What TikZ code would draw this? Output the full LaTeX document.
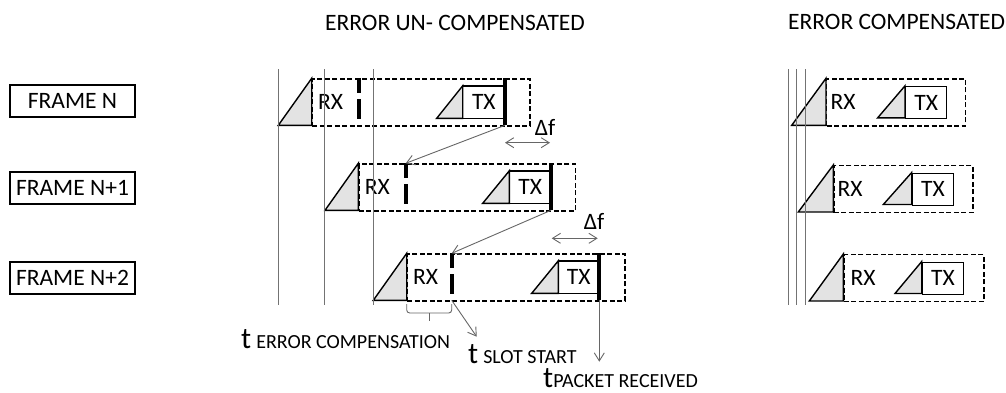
\documentclass[tikz,border=0pt]{standalone}
\usepackage{fontspec}
\setmainfont{Carlito}
\usetikzlibrary{arrows.meta}
\newcommand\uframe[9]{%
  \node[frm, anchor=north west, minimum width={#5-#3}, minimum height=47pt] (#1) at (#3,#4) {};
  \draw[tri] (#2,#4+47) -- (#3,#4) -- (#3,#4+47) -- cycle;
  \node (#1-rx) at (#3+19,#4+23.5) {RX};
  \draw[tri] (#7,#4+40) -- (#8,#4+7.5) -- (#8,#4+40) -- cycle;
  \draw[txbox] (#9,#4+7.5) -- (#8,#4+7.5) -- (#8,#4+40) -- (#9,#4+40);
  \node (#1-tx) at ({(#8+#9)/2},#4+23.5) {TX};
  \coordinate (#1-dt) at (#6,#4);
  \coordinate (#1-db) at (#6,#4+47);
  \coordinate (#1-bt) at (#9,#4);
  \coordinate (#1-bb) at (#9,#4+47);
  \draw[bar] (#6,#4) -- (#6,#4+15) (#6,#4+21) -- (#6,#4+41);
  \draw[bar] (#1-bt) -- (#1-bb);
}
\newcommand\cframe[8]{%
  \node[frm, anchor=north west, minimum width={#5-#3}, minimum height=47pt] (#1) at (#3,#4) {};
  \draw[tri] (#2,#4+47) -- (#3,#4) -- (#3,#4+47) -- cycle;
  \node (#1-rx) at (#8,#4+23.5) {RX};
  \draw[tri] (#6,#4+39.5) -- (#7,#4+7.5) -- (#7,#4+39.5) -- cycle;
  \node[txbox, anchor=north west, minimum width=41pt, minimum height=32pt] (#1-tx) at (#7,#4+7.5) {TX};
}
\begin{document}
\begin{tikzpicture}[x=1pt,y=-1pt,
  every node/.style={font=\fontsize{23.5}{26}\selectfont, inner sep=0pt},
  flabel/.style={draw, line width=1.2pt, minimum width=125pt, minimum height=32pt},
  frm/.style={draw, line width=1.3pt, dash pattern=on 5pt off 2.5pt},
  tri/.style={draw, fill=black!11, line width=1.4pt, line join=miter},
  txbox/.style={draw, line width=1.4pt},
  bar/.style={line width=4.3pt},
  vline/.style={draw=black!55, line width=0.9pt},
  conn/.style={draw=black!60, line width=0.9pt, -{Straight Barb[length=8pt,width=10pt]}},
  dconn/.style={draw=black!60, line width=0.9pt, {Straight Barb[length=8pt,width=10pt]}-{Straight Barb[length=8pt,width=10pt]}},
  brc/.style={draw=black!60, line width=0.9pt, rounded corners=3pt},
]
\useasboundingbox (0,0) rectangle (1006,392);

% titles
\node[anchor=base west] (t1) at (325,30) {ERROR UN- COMPENSATED};
\node[anchor=base west] (t2) at (788,29.3) {ERROR COMPENSATED};

% frame labels
\node[flabel] (fN) at (72.5,101) {FRAME N};
\node[flabel] (fN1) at (72.5,188) {FRAME N+1};
\node[flabel] (fN2) at (72.5,278) {FRAME N+2};

% uncompensated frames
\uframe{uN}{278.3}{311.7}{78.3}{529.3}{359.3}{436.7}{462.7}{505}
\uframe{uNa}{325}{358.3}{163.3}{575}{405.7}{482.7}{509.3}{551}
\uframe{uNb}{373.3}{406.7}{253.3}{624.3}{451.7}{531.7}{558.3}{599.3}

% compensated frames
\cframe{cN}{791.7}{826}{78.3}{965}{877.7}{905}{843}
\cframe{cNa}{798.3}{833.3}{165}{972.3}{883.3}{911.7}{850}
\cframe{cNb}{809.3}{843.3}{254}{983.3}{895}{921.7}{863}

% time lines
\foreach \x in {278.3,324.3,373.3,788.3,796.7,805} \draw[vline] (\x,69) -- (\x,305);

% propagation arrows
\draw[conn] (uN-bb) -- (uNa-dt);
\draw[conn] (uNa-bb) -- (uNb-dt);

% delta f
\coordinate (d1a) at (505,142.7); \coordinate (d1b) at (550,142.7);
\draw[dconn] (d1a) -- (d1b);
\node (df1) at (545,127) {Δf};
\coordinate (d2a) at (551.7,238.3); \coordinate (d2b) at (597.7,238.3);
\draw[dconn] (d2a) -- (d2b);
\node (df2) at (594,221.7) {Δf};

% brace
\draw[brc] (406.7,304) -- (406.7,313) -- (451.7,313) -- (451.7,304);
\draw[brc] (429.2,313) -- (429.2,321);

% bottom labels
\node[anchor=base west] (tec) at (241,348) {{\fontsize{30}{32}\selectfont t}\hspace{5pt}{\fontsize{20}{22}\selectfont ERROR COMPENSATION}};
\node[anchor=base west] (tss) at (468,363) {{\fontsize{30}{32}\selectfont t}\hspace{5pt}{\fontsize{20}{22}\selectfont SLOT START}};
\node[anchor=base west] (tpr) at (543,387) {{\fontsize{30}{32}\selectfont t}{\fontsize{20}{22}\selectfont PACKET RECEIVED}};

\coordinate (ss) at (476.7,336.7);
\coordinate (pr) at (599.3,361.7);
\draw[conn] (uNb-db) -- (ss);
\draw[conn] (uNb-bb) -- (pr);
\end{tikzpicture}
\end{document}
